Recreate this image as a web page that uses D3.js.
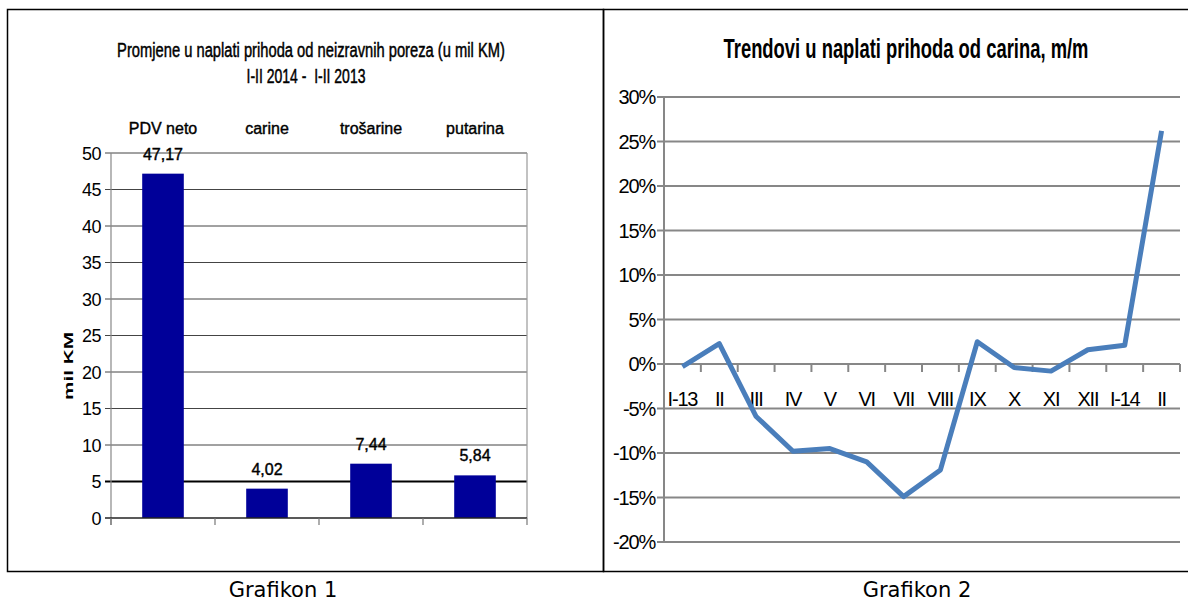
<!DOCTYPE html>
<html>
<head>
<meta charset="utf-8">
<script src="https://cdn.jsdelivr.net/npm/d3@7"></script>
<style>
  body { margin: 0; background: #fff; }
  svg { display: block; }
  .narrow { font-family: "Liberation Sans Narrow", "Arial Narrow", "Liberation Sans", sans-serif; }
</style>
</head>
<body>
<div id="container"></div>
<script>
// Grafikon 1 data
const TAXES = ["PDV neto", "carine", "trošarine", "putarina"];
const TAX_CHANGE = [47.17, 4.02, 7.44, 5.84];
const TAX_TICKS = [0, 5, 10, 15, 20, 25, 30, 35, 40, 45, 50];

// Grafikon 2 data
const MONTHS = ["I-13", "II", "III", "IV", "V", "VI", "VII", "VIII", "IX", "X", "XI", "XII", "I-14", "II"];
const CUSTOMS_MM = [-0.003, 0.023, -0.059, -0.098, -0.095, -0.110, -0.149, -0.119, 0.025, -0.004, -0.008, 0.016, 0.021, 0.262];
const PCT_TICKS = [-0.2, -0.15, -0.1, -0.05, 0, 0.05, 0.1, 0.15, 0.2, 0.25, 0.3];

const W = 1188, H = 601;
const BAR_COLOR = "#000099";
const LINE_COLOR = "#4a7ebb";

const svg = d3.select("#container").append("svg")
        .attr("width", W)
        .attr("height", H);

// squeeze a text horizontally round its anchor point so it takes the given width
function fitWidth(sel, width) {
        const w = sel.node().getComputedTextLength();
        const cx = +sel.attr("x") || 0, cy = +sel.attr("y") || 0;
        sel.attr("transform", "translate(" + cx + "," + cy + ") scale(" + (width / w) + ",1) translate(" + (-cx) + "," + (-cy) + ")");
}

// frames
svg.append("rect").attr("x", 7.5).attr("y", 9.5).attr("width", 596).attr("height", 562)
        .attr("fill", "none").attr("stroke", "#000").attr("stroke-width", 1.5);
svg.append("rect").attr("x", 603.5).attr("y", 9.5).attr("width", 600).attr("height", 562)
        .attr("fill", "none").attr("stroke", "#000").attr("stroke-width", 1.5);

// captions
svg.append("text").text("Grafikon 1")
        .attr("x", 283).attr("y", 597).attr("text-anchor", "middle")
        .attr("font-family", "DejaVu Sans").attr("font-size", "21px");
svg.append("text").text("Grafikon 2")
        .attr("x", 917).attr("y", 597).attr("text-anchor", "middle")
        .attr("font-family", "DejaVu Sans").attr("font-size", "21px");

// ---------- GRAFIKON 1 ----------
function makeBarChart() {
        const left = 111, right = 527, top = 153, bottom = 518;
        const g = svg.append("g").attr("class", "narrow");

        const y = d3.scaleLinear().domain([0, 50]).range([bottom, top]);
        const x = d3.scaleBand().domain(TAXES).range([left, right]);
        const barW = x.bandwidth() * 0.4;

        // title (heavy, condensed)
        const t1 = g.append("text").text("Promjene u naplati prihoda od neizravnih poreza (u mil KM)")
                .attr("x", 311).attr("y", 57).attr("text-anchor", "middle")
                .attr("font-size", "21px").attr("stroke", "#000").attr("stroke-width", 0.5);
        fitWidth(t1, 388);
        const t2 = g.append("text").text("I-II 2014 -  I-II 2013")
                .attr("x", 306).attr("y", 83).attr("text-anchor", "middle")
                .attr("font-size", "21px").attr("stroke", "#000").attr("stroke-width", 0.5)
                .style("white-space", "pre");
        fitWidth(t2, 119);

        // gridlines
        g.selectAll("line.grid")
                .data(TAX_TICKS.filter(d => d > 0))
                .enter()
                .append("line")
                .attr("class", "grid")
                .attr("x1", left - 6).attr("x2", right)
                .attr("y1", d => y(d)).attr("y2", d => y(d))
                .attr("stroke", d => d === 5 ? "#000" : "#444")
                .attr("stroke-width", d => d === 5 ? 2.2 : 1);

        // plot right edge + y axis
        g.append("line").attr("x1", right).attr("x2", right).attr("y1", top).attr("y2", bottom)
                .attr("stroke", "#999").attr("stroke-width", 1.2);
        g.append("line").attr("x1", left).attr("x2", left).attr("y1", top).attr("y2", bottom + 7)
                .attr("stroke", "#888").attr("stroke-width", 1.2);

        // bars
        g.selectAll("rect.bar")
                .data(TAX_CHANGE)
                .enter()
                .append("rect")
                .attr("class", "bar")
                .attr("x", (d, i) => x(TAXES[i]) + (x.bandwidth() - barW) / 2)
                .attr("y", d => y(d))
                .attr("width", barW)
                .attr("height", d => y(0) - y(d))
                .attr("fill", BAR_COLOR);

        // x axis
        g.append("line").attr("x1", left - 6).attr("x2", right).attr("y1", y(0)).attr("y2", y(0))
                .attr("stroke", "#222").attr("stroke-width", 1.5);
        g.selectAll("line.xtick")
                .data(TAXES.concat(["end"]))
                .enter()
                .append("line")
                .attr("class", "xtick")
                .attr("x1", (d, i) => left + i * x.step()).attr("x2", (d, i) => left + i * x.step())
                .attr("y1", y(0)).attr("y2", y(0) + 7)
                .attr("stroke", "#777").attr("stroke-width", 1.2);

        // y tick labels
        g.selectAll("text.ylab")
                .data(TAX_TICKS)
                .enter()
                .append("text")
                .attr("class", "ylab")
                .text(d => d)
                .attr("x", left - 10).attr("y", d => y(d) + 6.5)
                .attr("text-anchor", "end")
                .attr("font-size", "18px").attr("letter-spacing", "-0.5px");

        // category labels on top
        g.selectAll("text.cat")
                .data(TAXES)
                .enter()
                .append("text")
                .attr("class", "cat")
                .text(d => d)
                .attr("x", d => x(d) + x.bandwidth() / 2).attr("y", 134)
                .attr("text-anchor", "middle")
                .attr("font-size", "16px").attr("stroke", "#000").attr("stroke-width", 0.4);

        // value labels
        g.selectAll("text.val")
                .data(TAX_CHANGE)
                .enter()
                .append("text")
                .attr("class", "val")
                .text(d => d3.format(".2f")(d).replace(".", ","))
                .attr("x", (d, i) => x(TAXES[i]) + x.bandwidth() / 2)
                .attr("y", d => y(d) - 14)
                .attr("text-anchor", "middle")
                .attr("font-size", "16px").attr("stroke", "#000").attr("stroke-width", 0.4);

        // axis title, stretched along its baseline
        const yt = svg.append("g").attr("transform", "translate(73, 366) rotate(-90)")
                .append("text").text("mil KM")
                .attr("x", 0).attr("y", 0)
                .attr("text-anchor", "middle")
                .attr("font-family", "Liberation Sans").attr("font-size", "12px").attr("font-weight", "bold");
        fitWidth(yt, 68);
}

// ---------- GRAFIKON 2 ----------
function makeLineChart() {
        const left = 664, right = 1180, top = 97, bottom = 542;
        const g = svg.append("g").attr("class", "narrow");
        const gridColor = "#878787";

        const y = d3.scaleLinear().domain([-0.2, 0.3]).range([bottom, top]);
        const x = d3.scaleBand().domain(d3.range(MONTHS.length)).range([left, right]);

        const title = g.append("text").text("Trendovi u naplati prihoda od carina, m/m")
                .attr("x", 906).attr("y", 58).attr("text-anchor", "middle")
                .attr("font-size", "28px").attr("font-weight", "bold");
        fitWidth(title, 365);

        // gridlines
        g.selectAll("line.grid")
                .data(PCT_TICKS)
                .enter()
                .append("line")
                .attr("class", "grid")
                .attr("x1", left - 7).attr("x2", right)
                .attr("y1", d => y(d)).attr("y2", d => y(d))
                .attr("stroke", gridColor).attr("stroke-width", 2);

        // y axis
        g.append("line").attr("x1", left).attr("x2", left).attr("y1", top).attr("y2", bottom)
                .attr("stroke", gridColor).attr("stroke-width", 2);

        // x ticks on the 0% line
        g.selectAll("line.xtick")
                .data(d3.range(MONTHS.length + 1))
                .enter()
                .append("line")
                .attr("class", "xtick")
                .attr("x1", d => left + d * x.step()).attr("x2", d => left + d * x.step())
                .attr("y1", y(0)).attr("y2", y(0) + 8)
                .attr("stroke", gridColor).attr("stroke-width", 2);

        // y labels
        g.selectAll("text.ylab")
                .data(PCT_TICKS)
                .enter()
                .append("text")
                .attr("class", "ylab")
                .text(d => d3.format(".0%")(d).replace("−", "-"))
                .attr("x", left - 9).attr("y", d => y(d) + 7)
                .attr("text-anchor", "end")
                .attr("font-size", "20px").attr("letter-spacing", "-1.2px");

        // x labels
        g.selectAll("text.xlab")
                .data(MONTHS)
                .enter()
                .append("text")
                .attr("class", "xlab")
                .text(d => d)
                .attr("x", (d, i) => x(i) + x.bandwidth() / 2).attr("y", y(0) + 42)
                .attr("text-anchor", "middle")
                .attr("font-size", "20px").attr("letter-spacing", "-1.2px");

        // line
        const line = d3.line()
                .x((d, i) => x(i) + x.bandwidth() / 2)
                .y(d => y(d));
        g.append("path")
                .datum(CUSTOMS_MM)
                .attr("d", line)
                .attr("fill", "none")
                .attr("stroke", LINE_COLOR)
                .attr("stroke-width", 5)
                .attr("stroke-linejoin", "round");
}

makeBarChart();
makeLineChart();
</script>
</body>
</html>
